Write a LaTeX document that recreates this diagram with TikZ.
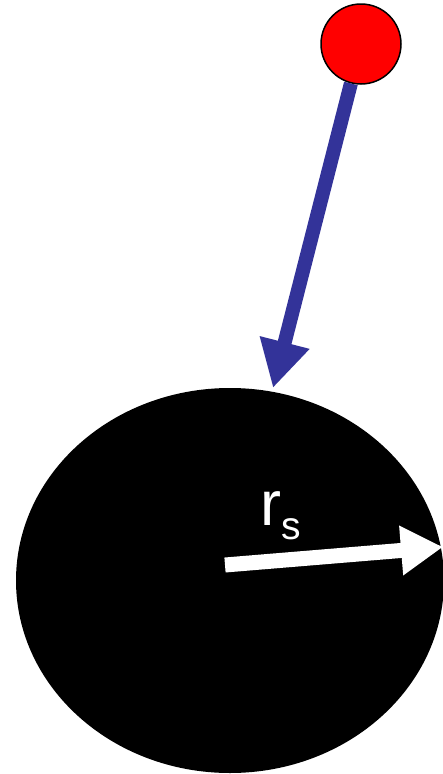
\documentclass[tikz,border=0pt]{standalone}
\usepackage{fontspec}
\setmainfont{Liberation Sans}
\usetikzlibrary{arrows.meta,shapes.geometric}
\definecolor{arrowblue}{HTML}{333399}
\tikzset{
  ballstyle/.style={circle, fill=red, draw=black, line width=1.5pt, minimum size=80pt, inner sep=0pt},
  bodystyle/.style={ellipse, fill=black, minimum width=428pt, minimum height=385pt, inner sep=0pt},
  fallarrow/.style={draw=arrowblue, line width=14pt, -{Triangle[length=47pt,width=48pt]}, fill=arrowblue},
  radarrow/.style={draw=white, line width=15pt, -{Triangle[length=42pt,width=47pt]}, fill=white},
  labelstyle/.style={anchor=base west, inner sep=0pt, text=white, font=\fontsize{63}{70}\selectfont}
}
\begin{document}
\begin{tikzpicture}[x=1pt,y=-1pt]
\useasboundingbox (0,0) rectangle (443,774);
\clip (0,0) rectangle (443,774);
\node[bodystyle] (body) at (230,580.5) {};
\node[ballstyle] (ball) at (361,44) {};
\coordinate (tip) at (273,388);
\draw[fallarrow] (ball) -- (tip);
\coordinate (rtail) at (225,565);
\coordinate (rtip) at (443,547);
\draw[radarrow, line cap=butt] (rtail) -- (rtip);
\node[labelstyle] (rs) at (260,525) {r\raisebox{-14pt}{\fontsize{39}{45}\selectfont s}};
\end{tikzpicture}
\end{document}
